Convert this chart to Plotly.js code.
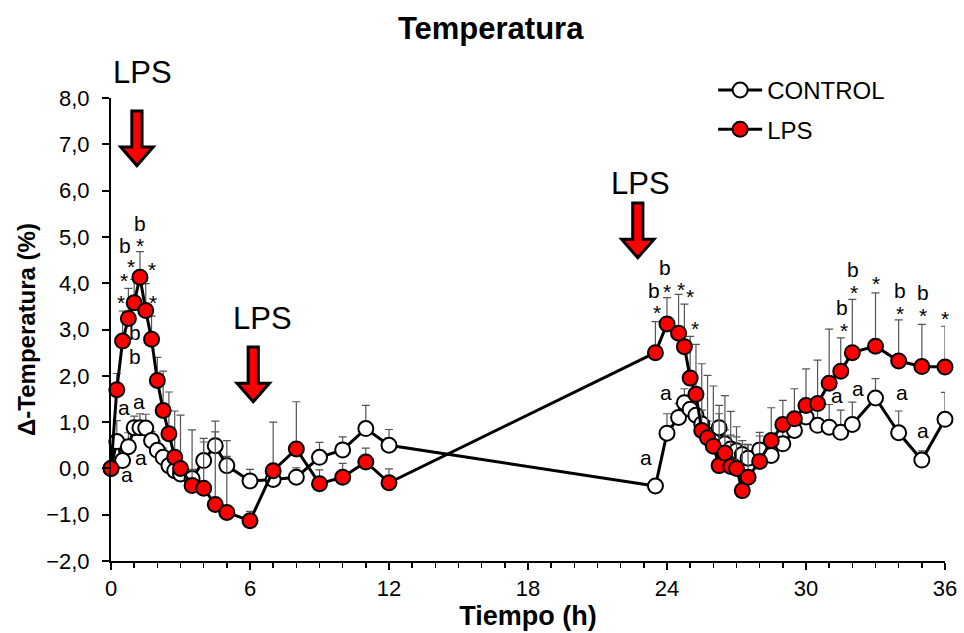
<!DOCTYPE html>
<html>
<head>
<meta charset="utf-8">
<script src="https://cdn.plot.ly/plotly-3.0.1.min.js"></script>
<style>html,body{margin:0;padding:0;background:#fff;}#chart{width:964px;height:633px;}</style>
</head>
<body>
<div id="chart"></div>
<script>
// ---- data ----
const tiempo = [0, 0.25, 0.5, 0.75, 1.0, 1.25, 1.5, 1.75, 2.0, 2.25, 2.5, 2.75, 3.0, 3.5, 4.0, 4.5, 5.0, 6.0, 7.0, 8.0, 9.0, 10.0, 11.0, 12.0,
  23.5, 24.0, 24.5, 24.75, 25.0, 25.25, 25.5, 25.75, 26.0, 26.25, 26.5, 26.75, 27.0, 27.25, 27.5, 28.0, 28.5, 29.0, 29.5, 30.0, 30.5, 31.0, 31.5, 32.0, 33.0, 34.0, 35.0, 36.0];
const control = [0.0, 0.58, 0.17, 0.47, 0.88, 0.88, 0.87, 0.60, 0.39, 0.24, 0.06, -0.05, -0.12, -0.22, 0.17, 0.49, 0.06, -0.27, -0.24, -0.19, 0.24, 0.40, 0.86, 0.50,
  -0.38, 0.76, 1.10, 1.42, 1.28, 1.15, 0.96, 0.72, 0.58, 0.88, 0.53, 0.42, 0.38, 0.30, 0.22, 0.40, 0.28, 0.53, 0.82, 1.11, 0.93, 0.89, 0.78, 0.95, 1.52, 0.77, 0.18, 1.06];
const controlErr = [0, 0.45, 0.2, 0.3, 0.25, 0.3, 0.3, 0.2, 0.2, 0.2, 0.2, 0.2, 0.2, 0.2, 0.4, 0.3, 0.2, 0.25, 0.2, 0.2, 0.32, 0.28, 0.5, 0.34,
  0.1, 0.42, 0.3, 0.3, 0.3, 0.3, 0.3, 0.3, 0.3, 0.3, 0.3, 0.3, 0.3, 0.3, 0.3, 0.3, 0.3, 0.3, 0.3, 0.3, 0.4, 0.49, 0.48, 0.48, 0.42, 0.47, 0.2, 0.58];
const lps = [0.0, 1.70, 2.75, 3.24, 3.58, 4.13, 3.41, 2.79, 1.90, 1.25, 0.75, 0.24, 0.0, -0.37, -0.43, -0.78, -0.95, -1.13, -0.05, 0.42, -0.33, -0.19, 0.14, -0.31,
  2.50, 3.12, 2.92, 2.63, 1.95, 1.60, 0.82, 0.66, 0.48, 0.06, 0.33, 0.04, 0.0, -0.48, -0.19, 0.15, 0.60, 0.95, 1.07, 1.36, 1.40, 1.84, 2.10, 2.50, 2.64, 2.32, 2.20, 2.19];
const lpsErr = [0, 0.35, 0.65, 0.65, 0.5, 0.55, 0.58, 0.5, 0.5, 0.85, 0.9, 1.0, 1.15, 1.2, 1.08, 1.8, 1.55, 0.2, 1.05, 1.02, 0.3, 0.3, 0.3, 0.3,
  0.67, 0.57, 0.84, 0.92, 0.9, 1.08, 1.44, 1.35, 1.3, 1.3, 1.24, 1.19, 0.9, 1.0, 0.7, 0.63, 0.71, 0.52, 0.65, 0.79, 0.94, 1.17, 0.72, 1.15, 1.15, 0.89, 0.91, 0.88];
const seriesNames = ['CONTROL', 'LPS'];
const xTicks = [0, 6, 12, 18, 24, 30, 36];
const lpsDoses = [1.12, 6.14, 22.74];

// ---- layout helpers ----
const FONT = 'Liberation Sans, Arial, sans-serif';
const zeros = tiempo.map(() => 0);

function trace(name, y, err, fill) {
  return {
    type: 'scatter', mode: 'lines+markers', name: name, legendgroup: name,
    x: tiempo, y: y, cliponaxis: false,
    line: {color: '#000', width: 3},
    marker: {symbol: 'circle', size: 15, color: fill, line: {color: '#000', width: 2}},
    error_y: {type: 'data', symmetric: false, array: err, arrayminus: zeros, color: '#555', thickness: 1.2, width: 4}
  };
}

const data = [trace(seriesNames[0], control, controlErr, '#ffffff'), trace(seriesNames[1], lps, lpsErr, '#ff0000')];

// arrow shapes (data coords)
function arrow(xc, ytop) {
  const sw = 0.22, hw = 0.70, sh = 0.78, hh = 0.40;
  const y1 = ytop - sh, y2 = y1 - hh;
  const p = `M ${xc - sw} ${ytop} L ${xc + sw} ${ytop} L ${xc + sw} ${y1} L ${xc + hw} ${y1} L ${xc} ${y2} L ${xc - hw} ${y1} L ${xc - sw} ${y1} Z`;
  return {type: 'path', xref: 'x', yref: 'y', path: p, fillcolor: '#ff0000', line: {color: '#000', width: 3}, layer: 'above'};
}
const arrowTops = [7.72, 2.62, 5.73];
const shapes = lpsDoses.map((x, i) => arrow(x, arrowTops[i]));

const annotations = [
  {x: 1.34, y: 1.055, xref: 'x', yref: 'paper'},
  {x: 6.56, y: 3.24, xref: 'x', yref: 'y'},
  {x: 22.87, y: 6.16, xref: 'x', yref: 'y'}
].map(a => Object.assign(a, {text: 'LPS', showarrow: false, xanchor: 'center', yanchor: 'middle',
  font: {family: FONT, size: 31, color: '#000'}}));

const sig = [
  ['b', 1.25, 5.29], ['*', 1.25, 4.82], ['b', 0.60, 4.82], ['*', 0.86, 4.36], ['*', 1.77, 4.30],
  ['*', 0.56, 4.06], ['*', 0.43, 3.59], ['*', 1.81, 3.59], ['b', 1.04, 2.94], ['b', 1.04, 2.42],
  ['a', 0.56, 1.32], ['a', 1.21, 1.45], ['a', 1.29, 0.24], ['a', 0.69, -0.13],
  ['b', 23.91, 4.34], ['b', 23.44, 3.84], ['*', 24.0, 3.82], ['*', 24.6, 3.87], ['*', 24.99, 3.71],
  ['*', 23.56, 3.37], ['*', 25.2, 3.02], ['a', 23.95, 1.64], ['a', 23.09, 0.24],
  ['b', 32.02, 4.30], ['*', 32.07, 3.80], ['b', 31.55, 3.48], ['*', 31.64, 2.98], ['*', 33.02, 4.0],
  ['b', 34.05, 3.84], ['*', 34.05, 3.35], ['b', 35.05, 3.80], ['*', 35.05, 3.30], ['*', 36.0, 3.24],
  ['a', 31.33, 1.58], ['a', 32.24, 1.73], ['a', 34.14, 1.64], ['a', 35.05, 0.82]
];
sig.forEach(s => annotations.push({
  x: s[1], y: s[2], xref: 'x', yref: 'y', text: s[0], showarrow: false,
  font: {family: FONT, size: 21, color: '#000'}
}));

const layout = {
  width: 964, height: 633,
  margin: {l: 111, r: 19, t: 98, b: 72, pad: 0},
  paper_bgcolor: '#fff', plot_bgcolor: '#fff',
  separators: ',.',
  font: {family: FONT, color: '#000'},
  showlegend: true,
  title: {text: '<b>Temperatura</b>', x: 0.509, xanchor: 'center', y: 0.955, yanchor: 'middle',
    font: {family: FONT, size: 31, color: '#000'}},
  xaxis: {
    range: [0, 36], tickvals: xTicks, ticktext: xTicks.map(String),
    showgrid: false, zeroline: false, showline: true, linecolor: '#000', linewidth: 2,
    ticks: 'outside', ticklen: 7, tickwidth: 2, tickcolor: '#000',
    minor: {dtick: 1, ticks: 'outside', ticklen: 5, tickwidth: 1.5, tickcolor: '#000'},
    tickfont: {family: FONT, size: 22, color: '#000'},
    title: {text: '<b>Tiempo (h)</b>', font: {family: FONT, size: 27, color: '#000'}, standoff: 6}
  },
  yaxis: {
    range: [-2, 8], dtick: 1, tick0: 0, tickformat: '.1f',
    showgrid: false, zeroline: false, showline: true, linecolor: '#000', linewidth: 2,
    ticks: 'outside', ticklen: 7, tickwidth: 2, tickcolor: '#000', ticklabelstandoff: 8,
    tickfont: {family: FONT, size: 22, color: '#000'},
    title: {text: '<b>Δ-Temperatura (%)</b>', font: {family: FONT, size: 24, color: '#000'}, standoff: 4}
  },
  legend: {x: 0.722, y: 1.065, xanchor: 'left', yanchor: 'top', bgcolor: 'rgba(0,0,0,0)', itemwidth: 44,
    font: {family: FONT, size: 24, color: '#000'}, tracegroupgap: 5},
  shapes: shapes,
  annotations: annotations
};

Plotly.newPlot('chart', data, layout, {displayModeBar: false, staticPlot: true});
</script>
</body>
</html>
